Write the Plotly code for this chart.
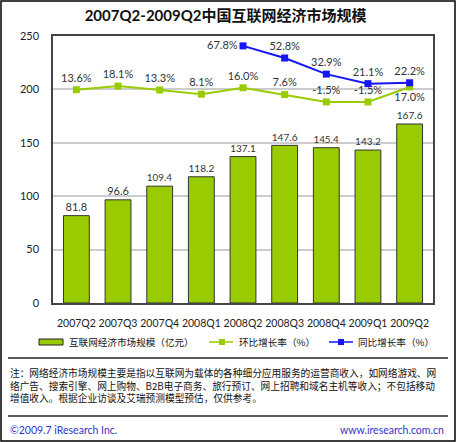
import plotly.graph_objects as go

categories = ["2007Q2", "2007Q3", "2007Q4", "2008Q1", "2008Q2", "2008Q3", "2008Q4", "2009Q1", "2009Q2"]
market_size = [81.8, 96.6, 109.4, 118.2, 137.1, 147.6, 145.4, 143.2, 167.6]
qoq_growth = [13.6, 18.1, 13.3, 8.1, 16.0, 7.6, -1.5, -1.5, 17.0]
yoy_growth = [None, None, None, None, 67.8, 52.8, 32.9, 21.1, 22.2]

y_ticks = [0, 50, 100, 150, 200, 250]

series_names = ["互联网经济市场规模（亿元）", "环比增长率（%）", "同比增长率（%）"]

LAT = "Lato, 'Noto Sans CJK SC', sans-serif"
CJK = "'Noto Sans CJK SC', sans-serif"
GREEN = "#99CC00"
BLUE = "#1515F5"

fig = go.Figure()

fig.add_trace(go.Bar(
    x=categories, y=market_size,
    name=series_names[0],
    marker=dict(color=GREEN, line=dict(color="#333333", width=1)),
    text=[f"{v:.1f}" for v in market_size],
    textposition="outside",
    textfont=dict(family=LAT, size=11, color="#333333"),
    cliponaxis=False,
    showlegend=False,
))

qoq_pos = ["top center"] * 8 + ["bottom center"]
fig.add_trace(go.Scatter(
    x=categories, y=qoq_growth, yaxis="y2",
    name=series_names[1],
    mode="lines+markers+text",
    line=dict(color=GREEN, width=2),
    marker=dict(symbol="square", size=7, color=GREEN),
    text=[f"{v:.1f}%" for v in qoq_growth],
    textposition=qoq_pos,
    textfont=dict(family=LAT, size=11, color="#333333"),
    cliponaxis=False,
    showlegend=False,
))

yoy_pos = ["top center"] * 4 + ["middle left", "top center", "top center", "top center", "top center"]
fig.add_trace(go.Scatter(
    x=categories, y=yoy_growth, yaxis="y2",
    name=series_names[2],
    mode="lines+markers+text",
    line=dict(color=BLUE, width=2),
    marker=dict(symbol="square", size=7, color=BLUE),
    text=[("" if v is None else f"{v:.1f}%") for v in yoy_growth],
    textposition=yoy_pos,
    textfont=dict(family=LAT, size=11, color="#333333"),
    cliponaxis=False,
    connectgaps=False,
    showlegend=False,
))

W, H = 456, 442
ml, mr, mt, mb = 53, 23, 36, 139
pw, ph = W - ml - mr, H - mt - mb

def px_x(x):
    return (x - ml) / pw

def px_y(y):
    return (H - mb - y) / ph

ly = 342  # legend row centre (px)
shapes = [
    dict(type="rect", xref="paper", yref="paper",
         x0=px_x(1), x1=px_x(455), y0=px_y(441), y1=px_y(1),
         line=dict(color="#000000", width=1.5)),
    dict(type="line", xref="paper", yref="paper",
         x0=px_x(8), x1=px_x(448), y0=px_y(358), y1=px_y(358),
         line=dict(color="#222222", width=1.5)),
    dict(type="line", xref="paper", yref="paper",
         x0=px_x(8), x1=px_x(448), y0=px_y(416), y1=px_y(416),
         line=dict(color="#222222", width=1.5)),
    # legend swatches
    dict(type="rect", xref="paper", yref="paper",
         x0=px_x(39), x1=px_x(63), y0=px_y(ly + 3), y1=px_y(ly - 3),
         fillcolor=GREEN, line=dict(color="#222222", width=1)),
    dict(type="line", xref="paper", yref="paper",
         x0=px_x(209), x1=px_x(233), y0=px_y(ly), y1=px_y(ly),
         line=dict(color=GREEN, width=1.5)),
    dict(type="rect", xref="paper", yref="paper",
         x0=px_x(219), x1=px_x(225), y0=px_y(ly + 3), y1=px_y(ly - 3),
         fillcolor=GREEN, line=dict(width=0)),
    dict(type="line", xref="paper", yref="paper",
         x0=px_x(329), x1=px_x(353), y0=px_y(ly), y1=px_y(ly),
         line=dict(color=BLUE, width=1.5)),
    dict(type="rect", xref="paper", yref="paper",
         x0=px_x(338), x1=px_x(344), y0=px_y(ly + 3), y1=px_y(ly - 3),
         fillcolor=BLUE, line=dict(width=0)),
]

note = ("注：网络经济市场规模主要是指以互联网为载体的各种细分应用服务的运营商收入，如网络游戏、网<br>"
        "络广告、搜索引擎、网上购物、B2B电子商务、旅行预订、网上招聘和域名主机等收入；不包括移动<br>"
        "增值收入。根据企业访谈及艾瑞预测模型预估，仅供参考。")

annotations = [
    dict(text=series_names[0], xref="paper", yref="paper", x=px_x(67), y=px_y(ly),
         xanchor="left", yanchor="middle", showarrow=False,
         font=dict(family=CJK, size=9.6, color="#111111")),
    dict(text=series_names[1], xref="paper", yref="paper", x=px_x(237), y=px_y(ly),
         xanchor="left", yanchor="middle", showarrow=False,
         font=dict(family=CJK, size=9.6, color="#111111")),
    dict(text=series_names[2], xref="paper", yref="paper", x=px_x(356), y=px_y(ly),
         xanchor="left", yanchor="middle", showarrow=False,
         font=dict(family=CJK, size=9.6, color="#111111")),
    dict(text=note, xref="paper", yref="paper", x=px_x(8), y=px_y(364),
         xanchor="left", yanchor="top", showarrow=False, align="left",
         font=dict(family=CJK, size=9.7, color="#111111")),
    dict(text="©2009.7 iResearch Inc.", xref="paper", yref="paper",
         x=px_x(8), y=px_y(430), xanchor="left", yanchor="middle", showarrow=False,
         font=dict(family=LAT, size=10.5, color="#3333CC")),
    dict(text="www.iresearch.com.cn", xref="paper", yref="paper",
         x=px_x(446), y=px_y(430), xanchor="right", yanchor="middle", showarrow=False,
         font=dict(family=LAT, size=10.5, color="#3333CC")),
]

fig.update_layout(
    width=W, height=H,
    margin=dict(l=ml, r=mr, t=mt, b=mb, autoexpand=False),
    paper_bgcolor="white", plot_bgcolor="white",
    title=dict(text="<b>2007Q2-2009Q2中国互联网经济市场规模</b>",
               x=px_x(241), xanchor="center", y=1 - 16 / H, yanchor="middle",
               font=dict(family=LAT, size=15, color="#111111")),
    bargap=0.38,
    showlegend=False,
    xaxis=dict(tickfont=dict(family=LAT, size=10.5, color="#222222"), tickangle=0,
               showline=True, linecolor="#444444", linewidth=1.5, mirror=True,
               ticks="", showgrid=False, ticklabelstandoff=10),
    yaxis=dict(range=[0, 250], tickvals=y_ticks, ticktext=[str(v) for v in y_ticks],
               tickfont=dict(family=LAT, size=11, color="#222222"),
               showline=True, linecolor="#444444", linewidth=1.5, mirror=True,
               showgrid=True, gridcolor="#CCCCCC", gridwidth=1.5,
               zeroline=False, ticks="", ticklabelstandoff=10),
    yaxis2=dict(overlaying="y", range=[-250, 80], visible=False, showgrid=False),
    shapes=shapes,
    annotations=annotations,
)

fig.write_html("out.html", config={"displayModeBar": False},
               post_script="document.body.style.margin='0';document.body.style.overflow='hidden';")
